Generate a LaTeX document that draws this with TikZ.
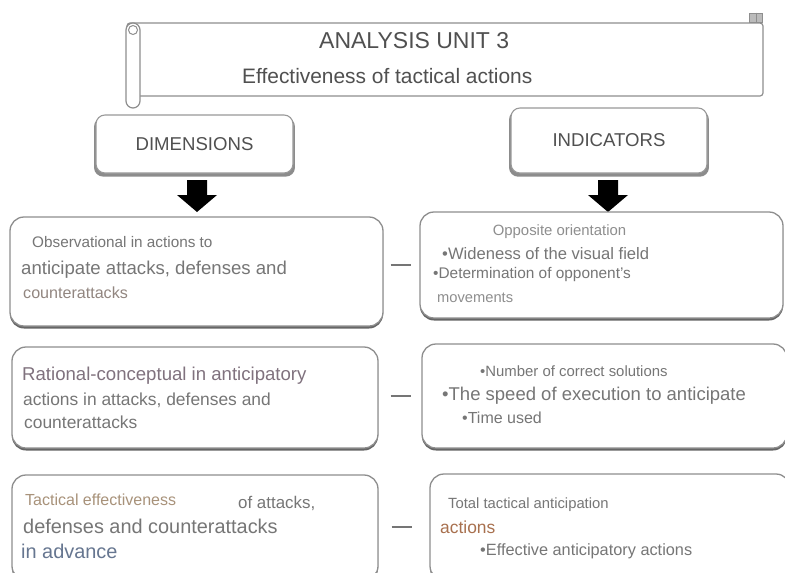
\documentclass[tikz,border=0pt]{standalone}
\usepackage{fontspec}
\setmainfont{Liberation Sans}
\usetikzlibrary{shadows}
\newcommand\setfs[1]{\fontsize{#1}{#1}\selectfont}
\definecolor{txtc}{HTML}{767676}
\definecolor{titc}{HTML}{505050}
\definecolor{litc}{HTML}{8E8E8E}
\definecolor{brnc}{HTML}{928680}
\definecolor{tanc}{HTML}{A8927A}
\definecolor{orgc}{HTML}{A8704E}
\definecolor{bluc}{HTML}{667690}
\definecolor{purc}{HTML}{80727E}
\definecolor{boxc}{HTML}{8E8E8E}
\definecolor{shc}{HTML}{666666}
\begin{document}
\begin{tikzpicture}[x=1pt,y=-1pt,
  box/.style={draw=boxc, line width=1.3pt, fill=white, rounded corners=14pt,
    drop shadow={shadow xshift=0pt, shadow yshift=-2.5pt, fill=shc, opacity=1},
    inner sep=0pt},
  hdr/.style={draw=boxc!90, line width=1.1pt, fill=white, rounded corners=9pt,
    general shadow={shadow scale=1.02, shadow xshift=0pt, shadow yshift=-3pt, fill=shc, opacity=.75},
    inner sep=0pt, text=titc, font=\setfs{18.6}},
  scrl/.style={draw=boxc, line width=1.2pt, fill=white},
  txt/.style={anchor=base west, inner sep=0pt, text=txtc},
  linkline/.style={draw=shc!90, line width=1.8pt},
  blk/.style={fill=black}
]
\useasboundingbox (0,0) rectangle (785,573);
\fill[white] (0,0) rectangle (785,573);
\clip (0,0) rectangle (785,573);

% scroll
\node[scrl, rounded corners=3pt, minimum width=636pt, minimum height=73pt] (scroll) at (445,59.5) {};
\node[scrl, rounded corners=7pt, minimum width=14pt, minimum height=85pt] (roll) at (133,65.5) {};
\node[draw=boxc, line width=1pt, circle, minimum size=9pt, inner sep=0pt] (curl) at (133,30) {};
\node[draw=boxc, fill=boxc!60, line width=.8pt, minimum width=13pt, minimum height=9pt, inner sep=0pt] (tcurl) at (756,17.5) {};
\draw[boxc, line width=.6pt] (tcurl.north) -- (tcurl.south);

\node[txt, text=titc, font=\setfs{23}] (t1) at (319,48) {ANALYSIS UNIT 3};
\node[txt, text=titc, font=\setfs{20.9}] (t2) at (242,83) {Effectiveness of tactical actions};

% headers
\node[hdr, minimum width=197pt, minimum height=58pt] (dim) at (194.5,144) {DIMENSIONS};
\node[hdr, minimum width=196pt, minimum height=65pt] (ind) at (609,140.5) {INDICATORS};

% block arrows
\coordinate (a1) at (197,180);
\coordinate (a2) at (608,180);
\fill[blk] (a1) ++(-10,0) -- ++(20,0) -- ++(0,15) -- ++(10,0) -- ++(-20,17) -- ++(-20,-17) -- ++(10,0) -- cycle;
\fill[blk] (a2) ++(-10,0) -- ++(20,0) -- ++(0,15) -- ++(10,0) -- ++(-20,17) -- ++(-20,-17) -- ++(10,0) -- cycle;

% boxes
\node[box, minimum width=373pt, minimum height=109pt] (L1) at (196.5,271.5) {};
\node[box, minimum width=366pt, minimum height=101pt] (L2) at (195,397.5) {};
\node[box, minimum width=366pt, minimum height=105pt] (L3) at (195,527.5) {};
\node[box, minimum width=363pt, minimum height=106pt] (R1) at (601.5,265) {};
\node[box, minimum width=365pt, minimum height=104pt] (R2) at (604.5,396) {};
\node[box, minimum width=360pt, minimum height=106pt] (R3) at (610,527) {};

% links
\draw[linkline, shorten <=7pt, shorten >=8pt] (L1.east |- R1.west) -- (R1.west);
\draw[linkline, shorten <=12pt, shorten >=10pt] (L2.east |- R2.west) -- (R2.west);
\draw[linkline, shorten <=13pt, shorten >=17pt] (L3.east |- R3.west) -- (R3.west);

% left texts
\node[txt, font=\setfs{15.3}] (l11) at (32,247) {Observational in actions to};
\node[txt, font=\setfs{18.6}] (l12) at (21,274) {anticipate attacks, defenses and};
\node[txt, text=brnc, font=\setfs{16.1}] (l13) at (23,298) {counterattacks};

\node[txt, text=purc, font=\setfs{18.6}] (l21) at (22,380) {Rational-conceptual in anticipatory};
\node[txt, font=\setfs{17.4}] (l22) at (23,405) {actions in attacks, defenses and};
\node[txt, font=\setfs{17.4}] (l23) at (24,428) {counterattacks};

\node[txt, text=tanc, font=\setfs{16}] (l31) at (25,505) {Tactical effectiveness};
\node[txt, font=\setfs{16.9}] (l32) at (238,508) {of attacks,};
\node[txt, font=\setfs{19.9}] (l33) at (23,533) {defenses and counterattacks};
\node[txt, text=bluc, font=\setfs{19.9}] (l34) at (21,558) {in advance};

% right texts
\node[txt, anchor=base, text=litc, font=\setfs{14.9}] (r11) at (559.5,235) {Opposite orientation};
\node[txt, font=\setfs{16.6}] (r12) at (442,259) {•Wideness of the visual field};
\node[txt, font=\setfs{15.4}] (r13) at (433,278) {•Determination of opponent's};
\node[txt, text=litc, font=\setfs{14.7}] (r14) at (437,302) {movements};

\node[txt, font=\setfs{14.9}] (r21) at (480,376) {•Number of correct solutions};
\node[txt, font=\setfs{18.5}] (r22) at (442,400) {•The speed of execution to anticipate};
\node[txt, font=\setfs{16}] (r23) at (462,423) {•Time used};

\node[txt, font=\setfs{14.8}] (r31) at (448,508) {Total tactical anticipation};
\node[txt, text=orgc, font=\setfs{17.4}] (r32) at (440,533) {actions};
\node[txt, font=\setfs{16.3}] (r33) at (480,555) {•Effective anticipatory actions};
\end{tikzpicture}
\end{document}
